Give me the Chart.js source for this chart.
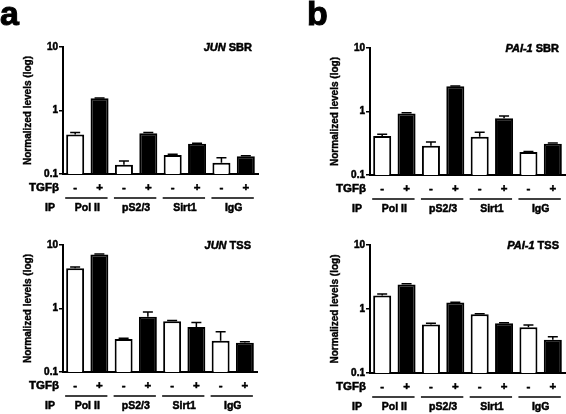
<!DOCTYPE html>
<html>
<head>
<meta charset="utf-8">
<script src="https://cdn.jsdelivr.net/npm/chart.js@4.4.1/dist/chart.umd.min.js"></script>
<style>
  body { margin: 0; background: #fff; }
  #wrap { position: relative; width: 566px; height: 414px; overflow: hidden; }
  canvas { position: absolute; }
</style>
</head>
<body>
<div id="wrap">
  <canvas id="pa" width="283" height="215" style="left:0;top:0"></canvas>
  <canvas id="pb" width="283" height="215" style="left:283px;top:0"></canvas>
  <canvas id="pc" width="283" height="214" style="left:0;top:200px"></canvas>
  <canvas id="pd" width="283" height="214" style="left:283px;top:200px"></canvas>
</div>
<script>
// categories
const ipGroups = ['Pol II', 'pS2/3', 'Sirt1', 'IgG'];
const tgfSigns = ['-', '+', '-', '+', '-', '+', '-', '+'];
const yTicks = [0.1, 1, 10];
const yTickLabels = ['0.1', '1', '10'];

// JUN SBR (a)
const junSbr = [0.42, 1.56, 0.14, 0.44, 0.20, 0.30, 0.15, 0.19];
const junSbrErr = [0.03, 0.02, 0.02, 0.01, 0.005, 0.005, 0.03, 0.003];
// PAI-1 SBR (b)
const paiSbr = [0.41, 0.93, 0.29, 2.5, 0.40, 0.78, 0.23, 0.31];
const paiSbrErr = [0.03, 0.03, 0.04, 0.02, 0.07, 0.07, 0.005, 0.01];
// JUN TSS
const junTss = [4.3, 7.1, 0.33, 0.74, 0.63, 0.51, 0.31, 0.29];
const junTssErr = [0.2, 0.1, 0.01, 0.14, 0.02, 0.09, 0.12, 0.01];
// PAI-1 TSS
const paiTss = [1.62, 2.42, 0.57, 1.26, 0.83, 0.60, 0.52, 0.33];
const paiTssErr = [0.1, 0.06, 0.03, 0.02, 0.01, 0.01, 0.04, 0.04];

const FONT = '"Liberation Sans", Arial, Helvetica, sans-serif';

// draw text a bit heavier, like the reference
function heavyText(ctx, txt, x, y, w) {
    ctx.lineWidth = w || 0.5;
    ctx.strokeText(txt, x, y);
    ctx.fillText(txt, x, y);
}

const errorBars = {
    id: 'errorBars',
    afterDatasetsDraw(chart, args, opts) {
        const ctx = chart.ctx;
        const y = chart.scales.y;
        const ds = chart.data.datasets[0];
        const meta = chart.getDatasetMeta(0);
        ctx.save();
        ctx.strokeStyle = '#000';
        ctx.lineWidth = 1.5;
        meta.data.forEach((bar, i) => {
            const top = y.getPixelForValue(ds.data[i] + opts.err[i]);
            ctx.beginPath();
            ctx.moveTo(bar.x, bar.y);
            ctx.lineTo(bar.x, top);
            ctx.moveTo(bar.x - 5, top);
            ctx.lineTo(bar.x + 5, top);
            ctx.stroke();
        });
        ctx.restore();
    }
};

const panelText = {
    id: 'panelText',
    afterDraw(chart, args, opts) {
        const ctx = chart.ctx;
        const area = chart.chartArea;
        const x = chart.scales.x;
        ctx.save();
        ctx.fillStyle = '#000';
        ctx.strokeStyle = '#000';

        // panel letter
        if (opts.letter) {
            ctx.font = 'bold 34px ' + FONT;
            ctx.textAlign = 'left';
            ctx.textBaseline = 'alphabetic';
            heavyText(ctx, opts.letter, area.left - 63, 25, 1);
        }

        // gene + region title
        ctx.textBaseline = 'alphabetic';
        ctx.textAlign = 'left';
        ctx.font = 'bold 11px ' + FONT;
        const regW = ctx.measureText(' ' + opts.region).width;
        ctx.font = 'italic bold 11px ' + FONT;
        const geneW = ctx.measureText(opts.gene).width;
        const tx = area.right - 6 - regW - geneW;
        heavyText(ctx, opts.gene, tx, area.top + 4);
        ctx.font = 'bold 11px ' + FONT;
        heavyText(ctx, ' ' + opts.region, tx + geneW, area.top + 4);

        // y title
        ctx.save();
        ctx.translate(area.left - 35, (area.top + area.bottom) / 2);
        ctx.rotate(-Math.PI / 2);
        ctx.font = 'bold 10px ' + FONT;
        ctx.textAlign = 'center';
        ctx.textBaseline = 'middle';
        heavyText(ctx, 'Normalized levels (log)', 0, 0, 0.4);
        ctx.restore();

        // TGFb row
        ctx.textBaseline = 'middle';
        ctx.font = 'bold 11.5px ' + FONT;
        ctx.textAlign = 'right';
        heavyText(ctx, 'TGFβ', area.left - 4, area.bottom + 14);
        ctx.textAlign = 'center';
        tgfSigns.forEach((s, i) => {
            heavyText(ctx, s, x.getPixelForValue(i), area.bottom + 14);
        });

        // group lines and IP row
        ctx.font = 'bold 10.5px ' + FONT;
        ctx.textAlign = 'center';
        heavyText(ctx, 'IP', area.left - 13, area.bottom + 34);
        ipGroups.forEach((g, k) => {
            const x0 = x.getPixelForValue(2 * k);
            const x1 = x.getPixelForValue(2 * k + 1);
            ctx.lineWidth = 1.6;
            ctx.beginPath();
            ctx.moveTo(x0 - 10, area.bottom + 24);
            ctx.lineTo(x1 + 8, area.bottom + 24);
            ctx.stroke();
            heavyText(ctx, g, (x0 + x1) / 2, area.bottom + 34);
        });
        ctx.restore();
    }
};

function makePanel(id, values, err, gene, region, letter, yW, xH, padTop, padRight) {
    const ctx = document.getElementById(id).getContext('2d');
    return new Chart(ctx, {
        type: 'bar',
        data: {
            labels: tgfSigns.map((s, i) => ipGroups[Math.floor(i / 2)] + ' ' + s),
            datasets: [{
                data: values,
                backgroundColor: tgfSigns.map(s => s === '-' ? '#fff' : '#000'),
                borderColor: '#000',
                borderWidth: 2,
                borderSkipped: 'start',
                barPercentage: 0.74,
                categoryPercentage: 1
            }]
        },
        options: {
            responsive: false,
            animation: false,
            devicePixelRatio: 1,
            layout: { padding: { top: padTop, right: padRight, left: 0, bottom: 0 } },
            plugins: {
                legend: { display: false },
                tooltip: { enabled: false },
                errorBars: { err: err },
                panelText: { gene: gene, region: region, letter: letter }
            },
            scales: {
                x: {
                    ticks: { display: false },
                    grid: { display: false },
                    border: { color: '#000', width: 2 },
                    afterFit: s => { s.height = xH; }
                },
                y: {
                    type: 'logarithmic',
                    min: 0.1,
                    max: 10,
                    afterBuildTicks: s => { s.ticks = yTicks.map(v => ({ value: v })); },
                    afterFit: s => { s.width = yW; },
                    ticks: {
                        callback: (v, i) => yTickLabels[i],
                        font: { family: FONT, weight: 'bold', size: 10 },
                        color: '#000',
                        textStrokeColor: '#000',
                        textStrokeWidth: 0.5,
                        padding: 1
                    },
                    grid: { drawOnChartArea: false, tickLength: 4, color: '#000', lineWidth: 1.5 },
                    border: { color: '#000', width: 2 }
                }
            }
        },
        plugins: [errorBars, panelText]
    });
}

makePanel('pa', junSbr, junSbrErr, 'JUN', 'SBR', 'a', 63, 41, 47, 25);
makePanel('pb', paiSbr, paiSbrErr, 'PAI-1', 'SBR', 'b', 87, 40, 48, 1);
makePanel('pc', junTss, junTssErr, 'JUN', 'TSS', '', 63, 42, 45, 26);
makePanel('pd', paiTss, paiTssErr, 'PAI-1', 'TSS', '', 87, 41, 45, 1);
</script>
</body>
</html>
